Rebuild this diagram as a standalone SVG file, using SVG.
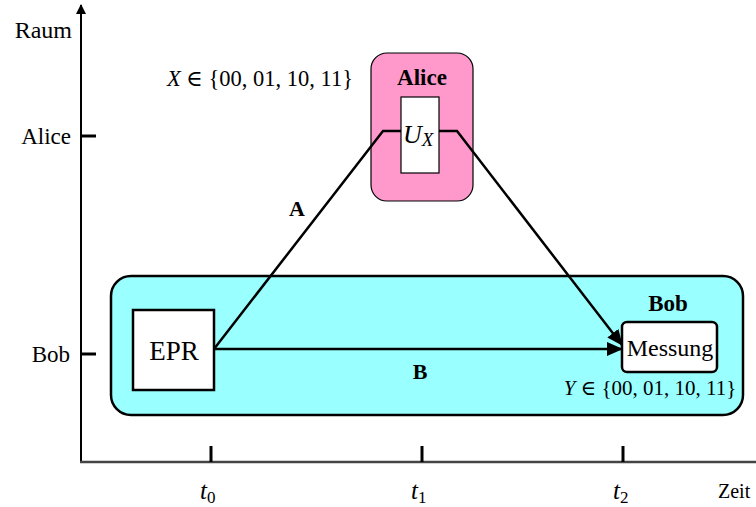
<svg xmlns="http://www.w3.org/2000/svg" width="756" height="507" viewBox="0 0 756 507">
<style>
text{font-family:"Liberation Serif","DejaVu Serif",serif;fill:#000}
.b{font-weight:bold}
.i{font-style:italic}
.ax{stroke:#000;stroke-width:2;fill:none}
.tick{stroke:#000;stroke-width:3}
.edge{stroke:#000;stroke-width:2.5;fill:none}
.box{stroke:#000;stroke-width:2.5}
</style>
<defs>
<marker id="arr" markerWidth="10" markerHeight="10" refX="9" refY="5" orient="auto" markerUnits="userSpaceOnUse" viewBox="0 0 10 10">
<path d="M0,0 L10,5 L0,10 z" fill="#000"/>
</marker>
<marker id="arrbig" markerWidth="16" markerHeight="14" refX="15" refY="7" orient="auto" markerUnits="userSpaceOnUse" viewBox="0 0 16 14">
<path d="M0,0 L16,7 L0,14 z" fill="#000"/>
</marker>
</defs>
<g id="axes">
<line x1="81" y1="462" x2="81" y2="5" class="ax" marker-end="url(#arr)"/>
<line x1="80" y1="462" x2="756" y2="462" stroke="#444" stroke-width="2.5"/>
<line x1="81" y1="136" x2="96" y2="136" class="tick"/>
<line x1="81" y1="354" x2="96" y2="354" class="tick"/>
<line x1="211" y1="446" x2="211" y2="462" class="tick"/>
<line x1="422" y1="446" x2="422" y2="462" class="tick"/>
<line x1="623" y1="446" x2="623" y2="462" class="tick"/>
<text x="72" y="38" font-size="24" text-anchor="end">Raum</text>
<text x="71" y="144" font-size="23" text-anchor="end">Alice</text>
<text x="70" y="362" font-size="23" text-anchor="end">Bob</text>
<text x="200" y="499" font-size="25" class="i">t<tspan font-size="17" font-style="normal" dy="4">0</tspan></text>
<text x="411" y="499" font-size="25" class="i">t<tspan font-size="17" font-style="normal" dy="4">1</tspan></text>
<text x="613" y="499" font-size="25" class="i">t<tspan font-size="17" font-style="normal" dy="4">2</tspan></text>
<text x="718" y="498" font-size="20">Zeit</text>
</g>
<g id="bob">
<rect x="111" y="276" width="632" height="139" rx="20" fill="#99ffff" class="box"/>
<text x="668" y="311" font-size="23" class="b" text-anchor="middle">Bob</text>
<text x="650" y="395" font-size="21" text-anchor="middle"><tspan class="i">Y</tspan> ∈ {00, 01, 10, 11}</text>
</g>
<g id="alice">
<rect x="371" y="53" width="102" height="148" rx="16" fill="#ff99cc" stroke="#000" stroke-width="1.2"/>
<text x="422" y="85" font-size="23" class="b" text-anchor="middle">Alice</text>
</g>
<g id="ux">
<rect x="401" y="97" width="38" height="76" fill="#fff" stroke="#000" stroke-width="1.2"/>
<text x="403" y="143" font-size="26" class="i">U<tspan font-size="19" dy="3">X</tspan></text>
</g>
<g id="epr">
<rect x="133" y="310" width="81" height="80" fill="#fff" class="box"/>
<text x="174" y="360" font-size="27" text-anchor="middle">EPR</text>
</g>
<g id="messung">
<rect x="622" y="322" width="95" height="50" rx="5" fill="#fff" class="box"/>
<text x="670" y="356" font-size="24" text-anchor="middle">Messung</text>
</g>
<g id="xlabel">
<text x="260" y="86" font-size="22.5" text-anchor="middle"><tspan class="i">X</tspan> ∈ {00, 01, 10, 11}</text>
</g>
<g id="connectors">
<polyline points="214,349 383,131 401,131" class="edge"/>
<polyline points="439,131 457,131 622,345" class="edge" marker-end="url(#arrbig)"/>
<line x1="214" y1="349" x2="622" y2="349" class="edge" marker-end="url(#arrbig)"/>
<text x="297" y="216" font-size="22" class="b" text-anchor="middle">A</text>
<text x="420" y="379" font-size="22" class="b" text-anchor="middle">B</text>
</g>
</svg>
